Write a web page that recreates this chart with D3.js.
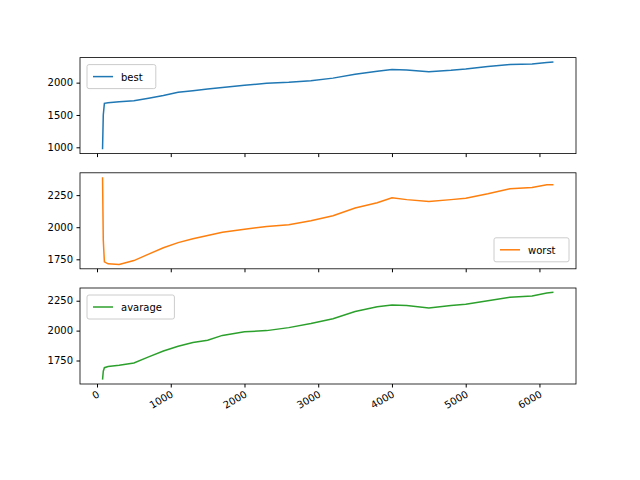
<!DOCTYPE html>
<html><head><meta charset="utf-8">
<script src="https://d3js.org/d3.v7.min.js"></script>
<style>body{margin:0;background:#fff}text{font-family:"DejaVu Sans";font-size:10px}</style>
</head><body><svg id="c" width="640" height="480"></svg>
<script>
// generations (shared x) and series values
var gens    = [75, 85, 100, 150, 300, 500, 700, 900, 1100, 1300, 1500, 1700, 2000, 2300, 2600, 2900, 3200, 3500, 3800, 4000, 4200, 4500, 4800, 5000, 5300, 5600, 5900, 6100, 6190];
var best    = [970, 1500, 1680, 1690, 1705, 1720, 1760, 1800, 1850, 1875, 1900, 1925, 1960, 1990, 2005, 2030, 2070, 2130, 2175, 2205, 2195, 2170, 2190, 2210, 2250, 2280, 2290, 2310, 2320];
var worst   = [2390, 1900, 1730, 1715, 1710, 1740, 1790, 1840, 1880, 1910, 1935, 1960, 1985, 2005, 2020, 2050, 2090, 2150, 2190, 2230, 2215, 2200, 2215, 2225, 2260, 2300, 2310, 2330, 2330];
var average = [1590, 1660, 1690, 1700, 1710, 1730, 1780, 1830, 1870, 1900, 1920, 1960, 1990, 2000, 2025, 2060, 2100, 2160, 2200, 2215, 2210, 2190, 2210, 2220, 2250, 2280, 2290, 2315, 2320];
var xTicks = [0, 1000, 2000, 3000, 4000, 5000, 6000];
var panels = [
  {name: "best", vals: best, color: "#1f77b4", ticks: [1000, 1500, 2000], legend: "ul"},
  {name: "worst", vals: worst, color: "#ff7f0e", ticks: [1750, 2000, 2250], legend: "lr"},
  {name: "avarage", vals: average, color: "#2ca02c", ticks: [1750, 2000, 2250], legend: "ul"}
];

var svg = d3.select("#c");
var L = 80, R = 576, H = 96, tops = [57.6, 172.8, 288];
var xr = d3.extent(gens), xm = (xr[1] - xr[0]) * 0.05;
var x = d3.scaleLinear().domain([xr[0] - xm, xr[1] + xm]).range([L, R]);

panels.forEach(function(p, i) {
  var t = tops[i];
  var yr = d3.extent(p.vals), ym = (yr[1] - yr[0]) * 0.05;
  var y = d3.scaleLinear().domain([yr[0] - ym, yr[1] + ym]).range([t + H, t]);
  var g = svg.append("g");
  g.append("path").datum(gens)
    .attr("d", d3.line().x(function(d){return x(d);}).y(function(d, j){return y(p.vals[j]);}))
    .attr("fill", "none").attr("stroke", p.color).attr("stroke-width", 1.5);
  var ya = g.append("g").attr("transform", "translate(" + L + ",0)")
    .call(d3.axisLeft(y).tickValues(p.ticks).tickSize(3.5).tickPadding(3.5).tickFormat(d3.format("d")));
  var xa = g.append("g").attr("transform", "translate(0," + (t + H) + ")")
    .call(d3.axisBottom(x).tickValues(xTicks).tickSize(3.5).tickFormat(i == 2 ? d3.format("d") : ""));
  [ya, xa].forEach(function(a){ a.select(".domain").remove(); a.selectAll("text").attr("fill","#000").style("font-size","10px"); });
  if (i == 2) xa.selectAll("text").attr("text-anchor", "end").attr("dy", "0.3em")
    .attr("transform", "translate(-2,4) rotate(-30)");
  g.append("rect").attr("x", L).attr("y", t).attr("width", R - L).attr("height", H)
    .attr("fill", "none").attr("stroke", "#000").attr("stroke-width", 0.8);
  var lw = p.name.length * 6.2 + 44, lx = p.legend == "ul" ? L + 7 : R - 7 - lw,
      ly = p.legend == "ul" ? t + 7 : t + H - 7 - 24;
  g.append("rect").attr("x", lx).attr("y", ly).attr("width", lw).attr("height", 24).attr("rx", 2)
    .attr("fill", "#fff").attr("fill-opacity", 0.8).attr("stroke", "#ccc");
  g.append("line").attr("x1", lx + 6).attr("x2", lx + 26).attr("y1", ly + 12).attr("y2", ly + 12)
    .attr("stroke", p.color).attr("stroke-width", 1.5);
  g.append("text").attr("x", lx + 34).attr("y", ly + 16).text(p.name);
});
</script></body></html>
